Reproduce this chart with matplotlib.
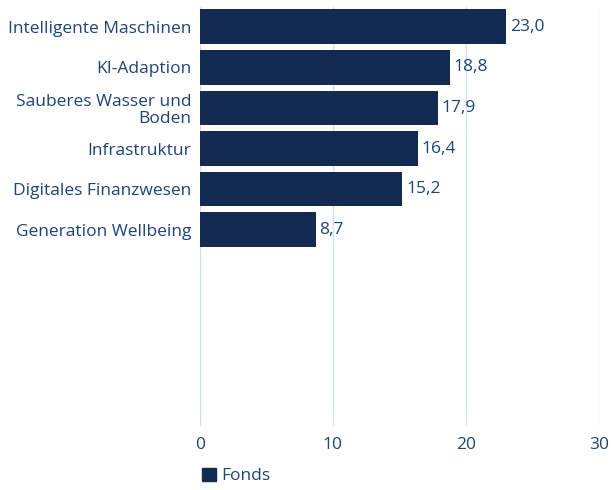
import matplotlib.pyplot as plt
from matplotlib.patches import Patch

# Data
categories = ['Intelligente Maschinen', 'KI-Adaption', 'Sauberes Wasser und\nBoden',
              'Infrastruktur', 'Digitales Finanzwesen', 'Generation Wellbeing']
values = [23.0, 18.8, 17.9, 16.4, 15.2, 8.7]
xticks = [0, 10, 20, 30]

bar_color = '#132b53'
text_color = '#1c4286'
grid_color = '#cfe3ec'

plt.rcParams['font.family'] = ['Open Sans', 'DejaVu Sans']
fs = 12.5

fig = plt.figure(figsize=(6.11, 4.90), dpi=100)
ax = fig.add_axes([0.327, 0.131, 0.653, 0.855])

pos = list(range(len(categories)))
ax.barh(pos, values, height=0.85, color=bar_color, zorder=3)
for p, v in zip(pos, values):
    ax.text(v + 0.3, p, f'{v:.1f}'.replace('.', ','), va='center', ha='left',
            fontsize=fs, color=text_color)

ax.set_xlim(0, 30)
ax.set_ylim(9.83, -0.49)
ax.set_xticks(xticks)
ax.set_yticks(pos)
ax.set_yticklabels(categories, fontsize=fs, color=text_color, linespacing=1.1)
ax.tick_params(axis='x', labelsize=fs, labelcolor=text_color, length=0, pad=8)
ax.tick_params(axis='y', length=0, pad=6)
ax.grid(axis='x', color=grid_color, linewidth=1, zorder=0)
for s in ax.spines.values():
    s.set_visible(False)

fig.legend(handles=[Patch(color=bar_color, label='Fonds')], loc='center left',
           bbox_to_anchor=(0.3306, 0.0286), frameon=False, fontsize=fs,
           borderpad=0, borderaxespad=0,
           handlelength=0.8, handleheight=0.8, handletextpad=0.3,
           labelcolor=text_color)

fig.savefig('out.png', dpi=100, facecolor='white')
